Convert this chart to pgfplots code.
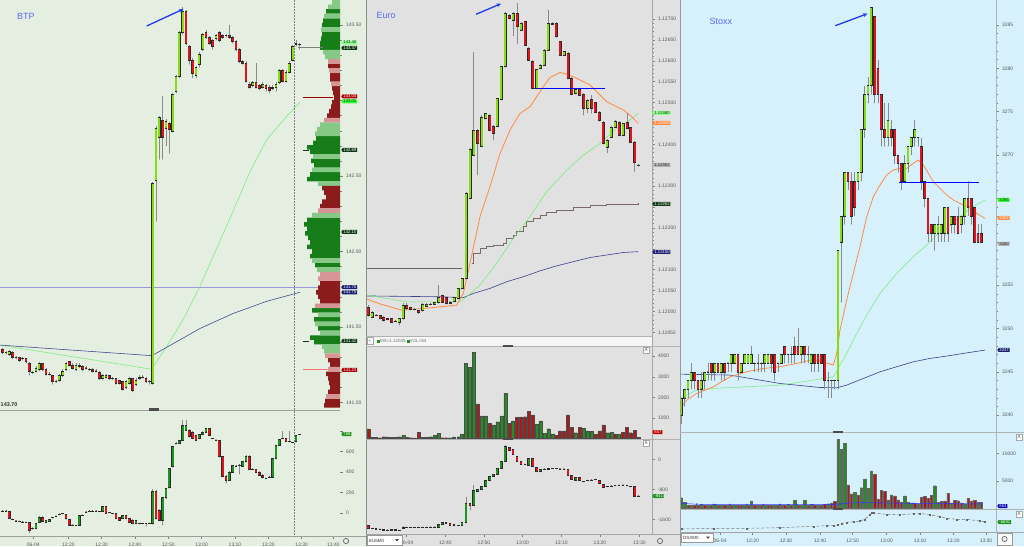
\documentclass[border=0pt]{standalone}
\usepackage{fontspec}
\setmainfont{Liberation Sans}
\usepackage{pgfplots}
\usepackage{pgfplotstable}
\pgfplotsset{compat=1.18}
\usetikzlibrary{shapes.symbols,arrows.meta}

\definecolor{bgbtp}{HTML}{E4EEE1}
\definecolor{bgeur}{HTML}{E1E1E1}
\definecolor{bgsto}{HTML}{D6F1FB}
\definecolor{lime}{HTML}{86DE12}
\definecolor{cred}{HTML}{E0141C}
\definecolor{dgreen}{HTML}{1F931F}
\definecolor{vgreen}{HTML}{238F23}
\definecolor{vred}{HTML}{B01717}
\definecolor{maorange}{HTML}{FF8A40}
\definecolor{manavy}{HTML}{3B3F8C}
\definecolor{magreen}{HTML}{78EE78}
\definecolor{vwap}{HTML}{7A6A6A}
\definecolor{arrowblue}{HTML}{1F3BF0}
\definecolor{lblue}{HTML}{5A6BF2}
\definecolor{pG}{HTML}{167D19}
\definecolor{pg}{HTML}{86C886}
\definecolor{pR}{HTML}{8C1C1C}
\definecolor{pr}{HTML}{D69696}
\definecolor{tagdark}{HTML}{0F3A14}
\definecolor{tagnavy}{HTML}{1B2070}
\definecolor{wick}{HTML}{8A8A8A}
\definecolor{outl}{HTML}{2A2A2A}

\pgfplotstableread{
x o h l c
0.8 141.35 141.36 141.32 141.33
1.8 141.33 141.34 141.32 141.33
2.8 141.32 141.35 141.31 141.34
3.8 141.33 141.34 141.29 141.30
4.8 141.30 141.31 141.29 141.30
5.8 141.30 141.30 141.27 141.28
6.8 141.29 141.30 141.28 141.29
7.8 141.29 141.29 141.26 141.27
8.8 141.26 141.27 141.18 141.21
9.8 141.20 141.21 141.19 141.20
10.8 141.21 141.24 141.20 141.23
11.8 141.22 141.27 141.21 141.26
12.8 141.26 141.26 141.21 141.22
13.8 141.22 141.23 141.18 141.19
14.8 141.19 141.20 141.18 141.19
15.8 141.18 141.18 141.12 141.14
16.8 141.14 141.15 141.13 141.14
17.8 141.15 141.19 141.14 141.18
18.8 141.18 141.22 141.17 141.21
19.8 141.22 141.27 141.21 141.26
20.8 141.27 141.27 141.24 141.25
21.8 141.25 141.26 141.22 141.23
22.8 141.22 141.26 141.21 141.25
23.8 141.24 141.26 141.23 141.25
24.8 141.24 141.25 141.21 141.22
25.8 141.23 141.24 141.22 141.23
26.8 141.22 141.23 141.21 141.22
27.8 141.22 141.23 141.20 141.21
28.8 141.21 141.22 141.20 141.21
29.8 141.20 141.21 141.15 141.16
30.8 141.16 141.19 141.15 141.18
31.8 141.17 141.19 141.16 141.18
32.8 141.18 141.18 141.15 141.16
33.8 141.16 141.17 141.15 141.16
34.8 141.16 141.16 141.12 141.13
35.8 141.15 141.15 141.12 141.13
36.8 141.14 141.14 141.08 141.09
37.8 141.10 141.15 141.09 141.14
38.8 141.13 141.17 141.12 141.16
39.8 141.16 141.16 141.07 141.08
40.8 141.12 141.16 141.11 141.15
41.8 141.16 141.18 141.15 141.17
42.8 141.17 141.18 141.16 141.17
43.8 141.16 141.17 141.13 141.14
44.8 141.14 141.15 141.12 141.14
45.8 141.13 142.46 141.12 142.45
46.8 142.47 142.83 142.20 142.82
47.8 142.76 142.90 142.61 142.89
48.8 142.87 143.03 142.61 142.76
49.8 142.82 142.88 142.70 142.86
50.8 142.85 142.86 142.65 142.81
51.8 142.80 143.05 142.79 143.04
52.8 143.06 143.17 143.05 143.16
53.8 143.16 143.46 143.15 143.45
54.8 143.45 143.62 143.44 143.59
55.8 143.59 143.60 143.37 143.38
56.8 143.36 143.37 143.24 143.27
57.8 143.27 143.28 143.15 143.18
58.8 143.17 143.23 143.15 143.22
59.8 143.24 143.32 143.22 143.31
60.8 143.34 143.45 143.33 143.44
61.8 143.45 143.47 143.41 143.42
62.8 143.42 143.43 143.37 143.38
63.8 143.40 143.41 143.34 143.36
64.8 143.41 143.44 143.40 143.43
65.8 143.45 143.46 143.39 143.40
66.8 143.43 143.44 143.41 143.42
67.8 143.43 143.44 143.42 143.43
68.8 143.43 143.50 143.41 143.42
69.8 143.42 143.43 143.38 143.39
70.8 143.39 143.40 143.33 143.34
71.8 143.34 143.35 143.25 143.26
72.8 143.26 143.27 143.24 143.25
73.8 143.25 143.26 143.12 143.13
74.8 143.11 143.12 143.08 143.09
75.8 143.10 143.13 143.09 143.12
76.8 143.12 143.25 143.08 143.09
77.8 143.10 143.11 143.07 143.08
78.8 143.09 143.12 143.08 143.11
79.8 143.10 143.11 143.06 143.08
80.8 143.09 143.10 143.05 143.07
81.8 143.09 143.10 143.07 143.08
82.8 143.09 143.12 143.06 143.11
83.8 143.12 143.21 143.11 143.20
84.8 143.20 143.21 143.12 143.13
85.8 143.13 143.20 143.12 143.19
86.8 143.19 143.26 143.18 143.25
87.8 143.27 143.37 143.26 143.36
88.8 143.38 143.40 143.36 143.37
89.8 143.37 143.38 143.34 143.37
}\btpmain

\pgfplotstableread{
p v k
143.65 8 2
143.62 12 2
143.59 14 1
143.56 16 2
143.53 17 1
143.50 18 1
143.47 19 2
143.44 18 1
143.41 19 1
143.38 20 1
143.35 20 1
143.32 17 2
143.29 15 2
143.26 12 4
143.23 12 3
143.20 11 4
143.17 10 3
143.14 10 3
143.11 9 4
143.08 8 3
143.05 7 3
143.02 6 3
142.99 8 3
142.96 9 3
142.93 11 3
142.90 13 3
142.87 16 4
142.84 20 2
142.81 23 2
142.78 25 2
142.75 24 1
142.72 27 1
142.69 33 1
142.66 30 1
142.63 27 2
142.60 29 1
142.57 26 1
142.54 28 2
142.51 30 1
142.48 33 1
142.45 22 2
142.42 18 3
142.39 16 3
142.36 14 3
142.33 18 3
142.30 20 3
142.27 22 4
142.24 28 2
142.21 33 1
142.18 36 1
142.15 33 1
142.12 35 1
142.09 32 1
142.06 30 1
142.03 33 1
142.00 28 1
141.97 30 1
141.94 28 2
141.91 25 1
141.88 23 2
141.85 20 4
141.82 22 4
141.79 20 3
141.76 22 3
141.73 24 3
141.70 22 3
141.67 20 3
141.64 25 4
141.61 28 1
141.58 22 2
141.55 26 1
141.52 25 2
141.49 22 1
141.46 20 2
141.43 30 1
141.40 26 1
141.37 18 2
141.34 16 2
141.31 15 4
141.28 12 3
141.25 10 3
141.22 12 4
141.19 14 3
141.16 12 3
141.13 11 3
141.10 10 3
141.07 12 3
141.04 14 4
141.01 15 3
140.98 16 3
}\btpprof

\pgfplotstableread{
x o h l c
0.8 20 25 15 20
1.8 20 25 15 20
2.8 15 18 -55 -50
3.8 -60 -55 -65 -60
4.8 -75 -70 -80 -75
5.8 -80 -75 -85 -80
6.8 -85 -80 -90 -85
7.8 -90 -85 -95 -90
8.8 -85 -85 -190 -165
9.8 -150 -140 -160 -150
10.8 -150 -95 -155 -101
11.8 -91 -30 -95 -36
12.8 -36 -30 -80 -75
13.8 -90 -65 -95 -70
14.8 -80 -55 -85 -60
15.8 -45 -40 -50 -45
16.8 -30 -25 -35 -30
17.8 -10 -5 -15 -10
18.8 -5 0 -10 -5
19.8 -10 -5 -60 -55
20.8 -60 -55 -120 -117
21.8 -117 -112 -122 -117
22.8 -120 -115 -125 -120
23.8 -117 -15 -120 -20
24.8 -20 -15 -25 -20
25.8 10 15 5 10
26.8 20 25 15 20
27.8 20 25 15 20
28.8 20 25 15 20
29.8 15 20 10 15
30.8 20 68 15 62
31.8 62 68 -5 0
32.8 5 10 0 5
33.8 -5 0 -10 -5
34.8 -5 0 -57 -52
35.8 -45 -40 -73 -68
36.8 -52 -15 -57 -20
37.8 -20 -15 -57 -52
38.8 -52 -47 -96 -91
39.8 -68 -63 -106 -101
40.8 -101 -65 -106 -70
41.8 -101 -96 -106 -101
42.8 -101 -96 -106 -101
43.8 -101 -96 -130 -101
44.8 -100 -95 -105 -100
45.8 -101 230 -110 215
46.8 215 220 -60 -52
47.8 30 35 -73 -68
48.8 -68 160 -117 150
49.8 150 245 140 241
50.8 248 440 240 436
51.8 452 650 445 647
52.8 680 690 670 680
53.8 680 716 675 712
54.8 712 907 705 852
55.8 810 907 805 852
56.8 810 815 740 745
57.8 793 798 723 728
58.8 761 765 705 712
59.8 728 771 723 767
60.8 767 797 762 793
61.8 793 830 788 826
62.8 826 830 756 761
63.8 728 733 723 728
64.8 712 717 707 712
65.8 712 717 545 550
66.8 550 555 359 364
67.8 364 369 290 322
68.8 322 407 317 403
69.8 403 472 398 468
70.8 459 470 450 459
71.8 468 475 380 468
72.8 459 505 454 501
73.8 501 563 496 559
74.8 559 563 424 429
75.8 429 434 424 429
76.8 429 434 392 397
77.8 403 408 366 371
78.8 371 376 340 345
79.8 338 343 333 338
80.8 354 359 349 354
81.8 354 537 349 533
82.8 533 667 528 663
83.8 663 726 658 722
84.8 728 800 723 728
85.8 728 733 697 702
86.8 702 800 691 696
87.8 689 694 684 689
88.8 696 765 691 761
89.8 767 772 762 767
}\btpdelta

\pgfplotstableread{
x o h l c
8.5 1.12011 1.12015 1.11988 1.11991
9.7 1.11987 1.12001 1.11985 1.11999
10.8 1.11991 1.11993 1.11989 1.11991
12.0 1.11991 1.11992 1.11981 1.11983
13.1 1.11987 1.11988 1.11976 1.11978
14.3 1.11981 1.11985 1.11979 1.11983
15.5 1.11983 1.11985 1.11973 1.11975
16.6 1.11977 1.11979 1.11975 1.11977
17.8 1.11973 1.11985 1.11967 1.11983
19.0 1.11983 1.12019 1.11981 1.12015
20.0 1.12015 1.12019 1.12005 1.12007
21.2 1.12009 1.12011 1.12003 1.12005
22.4 1.12005 1.12007 1.12003 1.12005
23.6 1.12003 1.12004 1.11994 1.11997
24.8 1.12002 1.12020 1.12000 1.12018
26.0 1.12013 1.12020 1.12011 1.12018
27.2 1.12018 1.12021 1.12016 1.12018
28.4 1.12018 1.12023 1.12016 1.12021
29.6 1.12021 1.12063 1.12019 1.12033
30.7 1.12038 1.12040 1.12021 1.12023
31.8 1.12033 1.12035 1.12017 1.12019
33.0 1.12019 1.12025 1.12018 1.12023
34.2 1.12025 1.12035 1.12023 1.12033
35.5 1.12031 1.12057 1.12029 1.12055
36.6 1.12055 1.12081 1.12053 1.12079
37.8 1.12079 1.12286 1.12077 1.12284
39.0 1.12271 1.12390 1.12269 1.12388
40.1 1.12374 1.12622 1.12374 1.12434
41.3 1.12434 1.12436 1.12327 1.12402
42.5 1.12396 1.12470 1.12394 1.12466
43.7 1.12462 1.12476 1.12460 1.12474
44.9 1.12470 1.12472 1.12432 1.12434
46.0 1.12444 1.12446 1.12410 1.12426
47.2 1.12444 1.12512 1.12442 1.12510
48.4 1.12508 1.12588 1.12506 1.12586
49.6 1.12586 1.12717 1.12584 1.12715
50.8 1.12710 1.12712 1.12700 1.12702
51.9 1.12698 1.12716 1.12660 1.12714
53.1 1.12714 1.12738 1.12640 1.12682
54.3 1.12674 1.12692 1.12672 1.12690
55.5 1.12694 1.12696 1.12636 1.12638
56.6 1.12630 1.12632 1.12600 1.12602
57.8 1.12600 1.12602 1.12532 1.12534
59.0 1.12534 1.12581 1.12532 1.12579
60.1 1.12582 1.12592 1.12580 1.12590
61.3 1.12590 1.12628 1.12588 1.12626
62.5 1.12626 1.12722 1.12624 1.12691
63.7 1.12691 1.12693 1.12686 1.12688
64.9 1.12690 1.12692 1.12656 1.12658
66.0 1.12646 1.12648 1.12612 1.12614
67.2 1.12614 1.12624 1.12612 1.12622
68.4 1.12618 1.12620 1.12556 1.12558
69.5 1.12558 1.12560 1.12518 1.12520
70.7 1.12522 1.12534 1.12520 1.12532
71.9 1.12532 1.12534 1.12516 1.12518
73.1 1.12520 1.12522 1.12470 1.12486
74.3 1.12486 1.12508 1.12476 1.12506
75.5 1.12508 1.12518 1.12474 1.12486
76.6 1.12500 1.12502 1.12476 1.12478
77.8 1.12478 1.12480 1.12455 1.12457
79.0 1.12454 1.12456 1.12400 1.12402
80.2 1.12394 1.12412 1.12380 1.12410
81.4 1.12418 1.12443 1.12416 1.12441
82.5 1.12442 1.12458 1.12440 1.12456
83.7 1.12454 1.12456 1.12420 1.12422
84.9 1.12422 1.12452 1.12420 1.12450
86.1 1.12452 1.12474 1.12436 1.12438
87.2 1.12440 1.12442 1.12404 1.12406
88.4 1.12406 1.12408 1.12335 1.12356
89.5 1.12350 1.12352 1.12348 1.12350
}\eurmain

\pgfplotstableread{
x v k
8.5 455 0
9.7 50 1
10.8 50 1
12.0 30 0
13.1 80 0
14.3 65 1
15.5 50 0
16.6 40 0
17.8 80 1
19.0 160 1
20.0 50 0
21.2 30 0
22.4 20 0
23.6 290 0
24.8 50 1
26.0 40 1
27.2 80 1
28.4 130 1
29.6 245 1
30.7 30 0
31.8 30 0
33.0 30 1
34.2 65 1
35.5 80 1
36.6 195 1
37.8 3660 1
39.0 3450 1
40.1 4200 1
41.3 1675 0
42.5 1090 1
43.7 1090 1
44.9 730 0
46.0 650 1
47.2 810 1
48.4 1090 1
49.6 2195 1
50.8 730 0
51.9 845 1
53.1 1010 0
54.3 1040 0
55.5 1055 0
56.6 1300 0
57.8 1140 0
59.0 680 1
60.1 845 1
61.3 245 1
62.5 470 1
63.7 210 1
64.9 160 0
66.0 360 0
67.2 360 0
68.4 1140 0
69.5 520 0
70.7 275 1
71.9 550 0
73.1 490 1
74.3 360 1
75.5 325 1
76.6 195 0
77.8 360 0
79.0 650 0
80.2 275 1
81.4 290 1
82.5 210 0
83.7 195 1
84.9 290 0
86.1 520 0
87.2 275 0
88.4 400 0
89.5 60 1
}\eurvol

\pgfplotstableread{
x o h l c
8.5 -1770 -1765 -1845 -1840
9.7 -1840 -1835 -1850 -1845
10.8 -1845 -1840 -1860 -1855
12.0 -1855 -1850 -1870 -1860
13.1 -1860 -1855 -1885 -1880
14.3 -1880 -1875 -1890 -1885
15.5 -1885 -1860 -1890 -1870
16.6 -1870 -1865 -1895 -1890
17.8 -1890 -1880 -1900 -1895
19.0 -1840 -1790 -1845 -1800
20.0 -1800 -1795 -1815 -1810
21.2 -1810 -1805 -1820 -1815
22.4 -1815 -1805 -1820 -1810
23.6 -1810 -1800 -1815 -1805
24.8 -1805 -1800 -1815 -1810
26.0 -1810 -1800 -1815 -1805
27.2 -1805 -1795 -1810 -1800
28.4 -1800 -1795 -1810 -1805
29.6 -1810 -1720 -1815 -1725
30.7 -1725 -1685 -1730 -1690
31.8 -1690 -1685 -1700 -1695
33.0 -1705 -1700 -1775 -1770
34.2 -1730 -1725 -1775 -1770
35.5 -1770 -1745 -1775 -1750
36.6 -1750 -1685 -1755 -1690
37.8 -1690 -1000 -1695 -1175
39.0 -1175 -1170 -1350 -1220
40.1 -1220 -690 -1225 -818
41.3 -845 -785 -850 -791
42.5 -791 -720 -800 -729
43.7 -729 -560 -735 -569
44.9 -569 -455 -575 -462
46.0 -462 -395 -470 -400
47.2 -400 -235 -405 -240
48.4 -240 -40 -245 -44
49.6 -44 370 -50 338
50.8 311 330 240 249
51.9 275 280 128 133
53.1 71 76 -50 -44
54.3 -44 -40 -138 -133
55.5 -133 -128 -138 -133
56.6 -151 32 -156 27
57.8 27 32 -200 -196
59.0 -222 -217 -334 -329
60.1 -329 -253 -334 -258
61.3 -258 -253 -263 -258
62.5 -258 -235 -263 -240
63.7 -245 -240 -250 -245
64.9 -250 -245 -255 -250
66.0 -255 -250 -260 -255
67.2 -260 -255 -265 -260
68.4 -267 -262 -422 -418
69.5 -418 -413 -528 -524
70.7 -551 -475 -556 -480
71.9 -480 -475 -573 -569
73.1 -596 -591 -601 -596
74.3 -569 -564 -574 -569
75.5 -551 -546 -556 -551
76.6 -533 -528 -538 -533
77.8 -551 -546 -645 -640
79.0 -658 -653 -752 -747
80.2 -729 -724 -734 -729
81.4 -711 -706 -716 -711
82.5 -702 -697 -707 -702
83.7 -693 -688 -698 -693
84.9 -684 -679 -689 -684
86.1 -702 -697 -707 -702
87.2 -729 -724 -734 -729
88.4 -729 -724 -983 -978
89.5 -978 -973 -983 -978
}\eurdelta

\pgfplotstableread{
x o h l c
0.4 3240 3242 3239 3242
1.4 3242 3243 3241 3243
2.4 3243 3244 3242 3244
3.4 3244 3246 3243 3245
4.4 3245 3245 3243 3244
5.4 3244 3244 3242 3243
6.4 3243 3245 3242 3244
7.4 3244 3245 3243 3245
8.4 3245 3246 3244 3245
9.4 3246 3246 3244 3245
10.4 3245 3246 3244 3246
11.4 3246 3246 3245 3245
12.4 3245 3246 3244 3246
13.4 3246 3246 3244 3245
14.4 3246 3246 3245 3246
15.4 3246 3247 3245 3247
16.4 3246 3247 3246 3247
17.4 3247 3247 3244 3245
18.4 3245 3246 3245 3246
19.4 3246 3247 3246 3247
20.4 3246 3247 3246 3247
21.4 3246 3248 3246 3247
22.4 3246 3246 3245 3246
23.4 3246 3247 3245 3246
24.4 3246 3246 3245 3246
25.4 3246 3247 3245 3247
26.4 3246 3247 3246 3247
27.4 3247 3247 3245 3246
28.4 3247 3247 3244 3245
29.4 3246 3246 3245 3246
30.4 3246 3247 3246 3247
31.4 3248 3248 3246 3247
32.4 3247 3247 3246 3247
33.4 3247 3248 3246 3247
34.4 3248 3249 3246 3247
35.4 3248 3250 3247 3247
36.4 3247 3248 3246 3248
37.4 3248 3248 3246 3247
38.4 3247 3248 3246 3247
39.4 3246 3247 3245 3247
40.4 3247 3247 3245 3246
41.4 3247 3247 3245 3246
42.4 3247 3247 3246 3246
43.4 3247 3247 3243 3244
44.4 3244 3245 3242 3244
45.4 3244 3244 3242 3244
46.4 3244 3244 3243 3244
47.4 3244 3259 3243 3259
48.4 3260 3263 3253 3263
49.4 3263 3268 3262 3268
50.4 3268 3268 3266 3267
51.4 3267 3268 3262 3263
52.4 3267 3268 3263 3264
53.4 3267 3268 3266 3268
54.4 3268 3273 3267 3273
55.4 3273 3278 3272 3277
56.4 3277 3279 3276 3278
57.4 3278 3287 3277 3287
58.4 3286 3286 3276 3277
59.4 3280 3281 3276 3277
60.4 3277 3277 3271 3273
61.4 3273 3276 3271 3272
62.4 3272 3276 3271 3274
63.4 3273 3274 3271 3272
64.4 3273 3273 3269 3270
65.4 3270 3270 3268 3269
66.4 3269 3269 3266 3267
67.4 3267 3270 3267 3269
68.4 3269 3271 3268 3271
69.4 3271 3272 3270 3272
70.4 3272 3274 3271 3273
71.4 3272 3272 3271 3272
72.4 3271 3272 3266 3267
73.4 3267 3267 3264 3265
74.4 3265 3265 3260 3261
75.4 3262 3262 3260 3261
76.4 3261 3262 3259 3262
77.4 3261 3263 3260 3262
78.4 3261 3262 3260 3262
79.4 3261 3264 3260 3264
80.4 3264 3264 3260 3261
81.4 3262 3263 3261 3263
82.4 3263 3263 3261 3262
83.4 3263 3264 3261 3261
84.4 3262 3263 3261 3263
85.4 3263 3265 3262 3265
86.4 3265 3267 3263 3264
87.4 3265 3265 3262 3263
88.4 3264 3264 3260 3260
89.4 3261 3262 3260 3260
90.4 3261 3262 3260 3260
}\stomain

\pgfplotstableread{
x v k
0.4 1950 1
1.4 1100 1
2.4 600 0
3.4 600 1
4.4 600 0
5.4 500 0
6.4 700 1
7.4 600 0
8.4 600 1
9.4 500 0
10.4 700 1
11.4 600 0
12.4 600 1
13.4 600 0
14.4 600 1
15.4 500 0
16.4 600 1
17.4 600 0
18.4 500 0
19.4 500 1
20.4 600 0
21.4 1340 1
22.4 600 0
23.4 500 1
24.4 600 0
25.4 600 1
26.4 600 0
27.4 500 0
28.4 500 1
29.4 600 0
30.4 600 1
31.4 500 0
32.4 700 1
33.4 600 0
34.4 1460 1
35.4 600 0
36.4 500 1
37.4 1460 1
38.4 600 0
39.4 700 1
40.4 600 0
41.4 600 1
42.4 600 0
43.4 700 0
44.4 850 1
45.4 976 0
46.4 1220 0
47.4 12627 1
48.4 10858 1
49.4 11895 1
50.4 4270 0
51.4 2623 0
52.4 2867 1
53.4 2440 0
54.4 3782 1
55.4 5368 1
56.4 3660 1
57.4 6832 1
58.4 6222 0
59.4 1708 0
60.4 3233 0
61.4 3050 0
62.4 1525 1
63.4 2440 0
64.4 2257 0
65.4 1525 0
66.4 1098 0
67.4 2257 1
68.4 1098 1
69.4 976 1
70.4 915 0
71.4 850 1
72.4 1952 0
73.4 2135 0
74.4 1830 0
75.4 2318 0
76.4 4148 1
77.4 1098 1
78.4 1220 0
79.4 1340 0
80.4 2745 0
81.4 976 1
82.4 1464 0
83.4 1400 0
84.4 976 0
85.4 850 1
86.4 1769 0
87.4 1340 0
88.4 1464 0
89.4 1098 1
90.4 1098 0
}\stovol

\pgfplotsset{
 nomark/.style={only marks, mark=*, mark size=0.1pt, mark options={draw=none, fill=none}},
}
\newcommand{\candles}[7]{%
 \addplot[wick, nomark, forget plot, error bars/.cd, y dir=plus, y explicit, error mark=none, error bar style={line width=0.5pt, draw=wick}] table[x=x, y=l, y error plus expr=\thisrow{h}-\thisrow{l}] {#1};
 \addplot[#7, nomark, forget plot, restrict expr to domain={\thisrow{c}-\thisrow{o}}{0:1e9}, error bars/.cd, y dir=plus, y explicit, error mark=none, error bar style={line width=#5, draw=#7}] table[x=x, y=o, y error plus expr=\thisrow{c}-\thisrow{o}] {#1};
 \addplot[#7, nomark, forget plot, restrict expr to domain={\thisrow{o}-\thisrow{c}}{0:1e9}, error bars/.cd, y dir=plus, y explicit, error mark=none, error bar style={line width=#5, draw=#7}] table[x=x, y=c, y error plus expr=\thisrow{o}-\thisrow{c}] {#1};
 \addplot[#2, nomark, forget plot, restrict expr to domain={\thisrow{c}-\thisrow{o}}{0:1e9}, error bars/.cd, y dir=plus, y explicit, error mark=none, error bar style={line width=#4, draw=#2}] table[x=x, y=o, y error plus expr=\thisrow{c}-\thisrow{o}] {#1};
 \addplot[#3, nomark, forget plot, restrict expr to domain={\thisrow{o}-\thisrow{c}}{0:1e9}, error bars/.cd, y dir=plus, y explicit, error mark=none, error bar style={line width=#4, draw=#3}] table[x=x, y=c, y error plus expr=\thisrow{o}-\thisrow{c}] {#1};
 \addplot[#7, only marks, mark=-, mark size=#6, mark options={line width=0.4pt}, forget plot] table[x=x, y=o] {#1};
 \addplot[#7, only marks, mark=-, mark size=#6, mark options={line width=0.4pt}, forget plot] table[x=x, y=c] {#1};
}
\newcommand{\volbars}[5]{%
 \addplot[ybar, bar width=#4, fill=#2, draw=#5, line width=0.3pt, forget plot, restrict expr to domain={\thisrow{k}}{1:1}] table[x=x, y=v] {#1};
 \addplot[ybar, bar width=#4, fill=#3, draw=#5, line width=0.3pt, forget plot, restrict expr to domain={\thisrow{k}}{0:0}] table[x=x, y=v] {#1};
}

\pgfplotsset{
 panel/.style={scale only axis, anchor=south west, axis line style={draw=none}, xtick=\empty, ytick=\empty, clip=true,
  tick label style={font=\fontsize{5}{6}\selectfont, text=black!65},
  /pgf/number format/assume math mode=true, /pgf/number format/1000 sep={},
  scaled y ticks=false, scaled x ticks=false,
  tick style={black!50, line width=0.4pt}, tick align=outside, major tick length=2.5pt, minor tick length=1.5pt,
  ytick pos=right, yticklabel pos=right, xtick pos=left,
  xticklabel style={yshift=-0.5pt}},
}
\tikzset{tag/.style={signal, signal to=west, signal pointer angle=110, inner xsep=0.8pt, inner ysep=0.35pt, font=\fontsize{4.2}{4.4}\selectfont, anchor=west, text height=2.9pt, text depth=0.4pt}}

\begin{document}
\begin{tikzpicture}
\useasboundingbox (0pt,0pt) rectangle (1024pt,546pt);
\begin{scope}[x=1pt,y=1pt]
\fill[bgbtp] (0,0) rectangle (366,546);
\fill[bgeur] (366,0) rectangle (680,546);
\fill[bgsto] (680,0) rectangle (1024,546);
\fill[white!93!gray] (366,200) rectangle (652,210);
\end{scope}

% ---------------- BTP main
\begin{axis}[panel, at={(0pt,136pt)}, width=340pt, height=410pt, xmin=0, xmax=102, ymin=140.95, ymax=143.666,
  ytick={141,141.5,142,142.5,143,143.5}, yticklabels={141.00,141.50,142.00,142.50,,143.50}, minor y tick num=4]
\addplot[black!35!blue!40, line width=0.5pt, forget plot] coordinates {(0,141.76) (102,141.76)};
\addplot[magreen, line width=0.55pt] coordinates {(0,141.38) (45.5,141.22) (50,141.37) (55,141.55) (59.8,141.76) (65,142.02) (70,142.27) (75,142.53) (80,142.74) (85,142.87) (90,142.99)};
\addplot[manavy, line width=0.55pt] coordinates {(0,141.38) (45.5,141.31) (48,141.34) (52,141.39) (60,141.49) (70,141.59) (80,141.67) (90,141.73)};
\candles{\btpmain}{lime}{cred}{1.7pt}{2.5pt}{1.25pt}{outl}
\end{axis}

% ---------------- BTP volume profile
\begin{axis}[panel, hide axis, at={(300pt,136pt)}, width=40pt, height=410pt, x dir=reverse, xmin=0, xmax=40, ymin=140.95, ymax=143.666]
\addplot[xbar, bar width=0.03, fill=pG, draw=none, forget plot, restrict expr to domain={\thisrow{k}}{1:1}] table[x=v, y=p] {\btpprof};
\addplot[xbar, bar width=0.03, fill=pg, draw=none, forget plot, restrict expr to domain={\thisrow{k}}{2:2}] table[x=v, y=p] {\btpprof};
\addplot[xbar, bar width=0.03, fill=pR, draw=none, forget plot, restrict expr to domain={\thisrow{k}}{3:3}] table[x=v, y=p] {\btpprof};
\addplot[xbar, bar width=0.03, fill=pr, draw=none, forget plot, restrict expr to domain={\thisrow{k}}{4:4}] table[x=v, y=p] {\btpprof};
\end{axis}

% ---------------- BTP lower panel
\begin{axis}[panel, at={(0pt,10pt)}, width=340pt, height=125pt, xmin=0, xmax=102, ymin=-224, ymax=995,
  ytick={0,200,400,600,800}, yticklabels={0,200,400,600,},
  xtick={10,20.5,30.5,40.5,50.5,60.5,70.5,80.5,90.5,100},
  xticklabels={06-04,12:20,12:30,12:40,12:50,13:00,13:10,13:20,13:30,13:40}]
\candles{\btpdelta}{dgreen}{cred}{1.8pt}{2.5pt}{1.25pt}{outl}
\end{axis}

% ---------------- Euro main
\begin{axis}[panel, at={(366pt,210pt)}, width=286pt, height=336pt, xmin=7.8, xmax=93.6, ymin=1.119411, ymax=1.127455,
  ytick={1.1195,1.12,1.1205,1.121,1.1215,1.122,1.1225,1.123,1.1235,1.124,1.1245,1.125,1.1255,1.126,1.1265,1.127},
  yticklabels={1.11950,1.12000,1.12050,1.12100,,1.12200,,1.12300,,1.12400,,1.12500,1.12550,1.12600,1.12650,1.12700},
  minor y tick num=4]
\addplot[black!60, line width=0.6pt, forget plot] coordinates {(7.8,1.12103) (36.5,1.12103)};
\addplot[vwap, line width=0.6pt, const plot] coordinates {(39.5,1.12115) (40,1.12139) (42,1.12151) (44,1.12155) (46,1.12159) (49,1.12164) (50,1.12175) (52,1.12183) (53,1.12191) (55,1.12203) (56,1.12215) (58,1.12223) (60,1.12231) (62,1.12237) (65,1.12243) (70,1.12249) (75,1.12253) (80,1.12256) (89.5,1.12259)};
\addplot[manavy, line width=0.6pt] coordinates {(7.8,1.12037) (30,1.12035) (37,1.12033) (40,1.12043) (45,1.12055) (50,1.12071) (55,1.12083) (60,1.12097) (65,1.12109) (70,1.12119) (75,1.12129) (80,1.12135) (85,1.12141) (89.5,1.12143)};
\addplot[magreen, line width=0.55pt] coordinates {(7.8,1.12039) (20,1.12023) (36,1.12023) (38,1.12035) (42,1.12063) (47,1.12115) (52,1.12175) (57,1.12227) (62,1.12287) (68,1.12338) (73,1.12374) (78,1.12402) (83,1.12438) (87,1.12458) (89.5,1.12474)};
\addplot[maorange, line width=0.8pt] coordinates {(7.8,1.12030) (12,1.12018) (18.5,1.12003) (25,1.12007) (35,1.12015) (37,1.12043) (39,1.12115) (42,1.12227) (45,1.12299) (48,1.12378) (51,1.12434) (54,1.12474) (57,1.12490) (59,1.12514) (61,1.12538) (63,1.12560) (66,1.12572) (68,1.12568) (70,1.12562) (72,1.12554) (75,1.12542) (78,1.12518) (80,1.12502) (82,1.12494) (85,1.12482) (87,1.12470) (89.5,1.12450)};
\candles{\eurmain}{lime}{cred}{2.2pt}{3.0pt}{1.5pt}{outl}
\addplot[blue, line width=1.5pt] coordinates {(57.8,1.12534) (79.5,1.12534)};
\end{axis}

% ---------------- Euro volume
\begin{axis}[panel, at={(366pt,107pt)}, width=286pt, height=93pt, xmin=7.8, xmax=93.6, ymin=-34, ymax=4500,
  ytick={1000,2000,3000,4000}]
\volbars{\eurvol}{vgreen}{vred}{2.9pt}{black!70}
\end{axis}

% ---------------- Euro delta
\begin{axis}[panel, at={(366pt,12pt)}, width=286pt, height=95pt, xmin=7.8, xmax=93.6, ymin=-1992, ymax=541,
  ytick={-1600,-800,0},
  xtick={20,31.6,43.2,54.8,66.4,78,89.8},
  xticklabels={06-04,12:40,12:50,13:00,13:10,13:20,13:30}]
\candles{\eurdelta}{dgreen}{cred}{2.2pt}{2.9pt}{1.45pt}{outl}
\end{axis}

% ---------------- Stoxx main
\begin{axis}[panel, at={(680pt,115pt)}, width=316pt, height=431pt, xmin=0, xmax=94.8, ymin=3238.17, ymax=3287.88,
  ytick={3240,3245,3250,3255,3260,3265,3270,3275,3280,3285},
  yticklabels={3240,3245,3250,3255,,,3270,3275,3280,3285}, minor y tick num=4]
\addplot[manavy, line width=0.6pt] coordinates {(0,3244.73) (15,3244.62) (30,3243.65) (42,3243.19) (47,3243.15) (50,3243.46) (55,3244.23) (60,3245.0) (65,3245.58) (70,3246.15) (75,3246.54) (80,3246.81) (85,3247.12) (91.5,3247.5)};
\addplot[magreen, line width=0.55pt] coordinates {(0,3241.92) (5,3242.88) (10,3243.08) (20,3243.27) (30,3243.46) (40,3244.04) (46,3244.42) (48,3245.77) (50,3247.12) (53,3249.42) (56,3251.54) (60,3254.04) (65,3256.35) (70,3258.27) (74,3259.62) (77,3260.77) (80,3261.54) (84,3262.88) (87,3263.85) (91.5,3264.81)};
\addplot[maorange, line width=0.8pt] coordinates {(0,3240.77) (2,3241.73) (5,3242.5) (10,3243.27) (15,3244.42) (20,3245.0) (25,3245.38) (30,3245.58) (35,3245.96) (40,3246.42) (43,3246.15) (46,3245.77) (47,3247.12) (48,3249.81) (50,3253.27) (52,3256.35) (54,3259.42) (56,3262.88) (58,3265.19) (60,3266.54) (62,3267.69) (64,3268.27) (66,3268.46) (68,3268.46) (70,3269.04) (71.5,3269.42) (73,3268.85) (76,3266.92) (78,3266.15) (80,3265.38) (82,3264.81) (85,3264.23) (87,3264.04) (89,3263.27) (91.5,3262.69)};
\candles{\stomain}{lime}{cred}{1.8pt}{2.5pt}{1.25pt}{outl}
\addplot[blue, line width=1.5pt] coordinates {(65.7,3266.85) (89.8,3266.85)};
\end{axis}

% ---------------- Stoxx volume
\begin{axis}[panel, at={(680pt,37pt)}, width=316pt, height=77pt, xmin=0, xmax=94.8, ymin=-128, ymax=13974,
  ytick={5000,10000}]
\volbars{\stovol}{vgreen}{vred}{2.5pt}{black!60}
\addplot[blue!80, line width=0.5pt, mark=*, mark size=0.5pt] coordinates {(0.4,900) (5,750) (10,700) (15,720) (20,700) (25,690) (30,680) (35,690) (40,680) (46,720) (48,800) (50,950) (55,1050) (60,1000) (65,950) (70,900) (75,880) (80,850) (85,820) (90.4,800)};
\end{axis}

% ---------------- Stoxx delta
\begin{axis}[panel, at={(680pt,14pt)}, width=316pt, height=23pt, xmin=0, xmax=94.8, ymin=-9800, ymax=-2900,
  xtick={12,21.8,31.8,42,51.8,62,72,82,91.8},
  xticklabels={06-04,12:20,12:30,12:40,12:50,13:00,13:10,13:20,13:30}]
\addplot[black!55, line width=0.5pt, densely dashed, mark=square*, mark size=0.55pt, mark options={solid, black!60}] coordinates {(0.4,-8900) (10,-8700) (20,-8700) (30,-8500) (40,-8100) (44,-7900) (46,-7900) (47.4,-7700) (48.4,-7300) (50,-6900) (52,-6700) (54,-6500) (55.4,-6000) (57,-4700) (57.4,-4000) (58,-4100) (62,-4500) (66,-4700) (70,-4300) (72,-4200) (75,-4700) (78,-5200) (80,-5700) (83,-6000) (86,-6000) (90,-6500) (91.4,-6700)};
\end{axis}

% ---------------- overlays
\begin{scope}[x=1pt,y=1pt]
\draw[gray!75, line width=0.5pt] (0,136) -- (340,136);
\draw[gray!75, line width=0.5pt] (0,10) -- (366,10);
\draw[black!45, line width=0.6pt] (366,0) -- (366,546);
\draw[gray!70, line width=0.5pt] (652,12) -- (652,546);
\draw[gray!60] (366,210) -- (652,210);
\draw[gray!60] (366,200) -- (680,200);
\draw[gray!60] (366,107) -- (680,107);
\draw[gray!70] (366,12) -- (680,12);
\draw[black!40, line width=0.6pt] (680,0) -- (680,546);
\draw[gray!60] (996,14) -- (996,546);
\draw[gray!60] (680,114) -- (1024,114);
\draw[gray!60] (680,37) -- (1024,37);
\draw[gray!70] (680,14) -- (1024,14);
\draw[gray, densely dotted, line width=0.5pt] (294.7,10) -- (294.7,546);
\draw[gray, line width=0.6pt] (298,498.3) -- (323,498.3);
\draw[red!60!black, line width=0.5pt] (303,448.7) -- (333,448.7);
\draw[tagdark, line width=0.5pt] (303,396) -- (309,396);
\draw[tagdark, line width=0.5pt] (303,205) -- (309,205);
\draw[red!55, line width=0.5pt] (303,177) -- (328,177);
\fill[black!70] (149,135) rectangle (159,137.5);
\fill[black!70] (503,198.8) rectangle (513,201.2);
\fill[black!70] (503,105.8) rectangle (513,108.2);
\fill[black!70] (833,112.8) rectangle (843,115.2);
\fill[black!70] (833,35.8) rectangle (843,38.2);
\node[lblue, anchor=west, font=\fontsize{9}{10}\selectfont, inner sep=0pt] at (17,529.3) {BTP};
\node[lblue, anchor=west, font=\fontsize{9}{10}\selectfont, inner sep=0pt] at (376.5,531) {Euro};
\node[lblue, anchor=west, font=\fontsize{9}{10}\selectfont, inner sep=0pt] at (709.5,524.3) {Stoxx};
\draw[arrowblue, line width=1.3pt, -{Stealth[length=4.5pt,width=4pt]}] (146.7,520) -- (183.5,537);
\draw[arrowblue, line width=1.3pt, -{Stealth[length=4.5pt,width=4pt]}] (476,531.7) -- (501,542.3);
\draw[arrowblue, line width=1.3pt, -{Stealth[length=4.5pt,width=4pt]}] (835.3,520.3) -- (867.5,532.3);
\node[anchor=west, font=\bfseries\fontsize{5.5}{6}\selectfont, text=black!80, inner sep=0pt] at (0.5,141) {143.70};
\draw[gray!70, fill=white] (367,201.5) rectangle (373,208.5);
\node[font=\fontsize{4.5}{5}\selectfont, text=black!60, inner sep=0pt] at (370,205) {×};
\node[anchor=west, font=\fontsize{4.5}{5}\selectfont, text=black!55, inner sep=0pt] at (377,205) {\textcolor{vgreen}{\rule{2.8pt}{2.8pt}}MA=1.12045 \textcolor{vgreen}{\rule{2.8pt}{2.8pt}}VOL=64};
\node[tag, fill=green!45, text=tagdark] at (341,503.3) {143.40};
\node[tag, fill=tagdark, text=white] at (341,498) {143.37};
\node[tag, fill=red!70!black, text=white] at (341,449.6) {143.04};
\node[tag, fill=green!80, text=tagdark] at (341,444.6) {143.01};
\node[tag, fill=tagdark, text=white] at (341,396) {142.69};
\node[tag, fill=tagdark, text=white] at (341,314) {142.15};
\node[tag, fill=tagnavy, text=white] at (341,258.8) {141.78};
\node[tag, fill=tagnavy, text=white] at (341,253.6) {141.75};
\node[tag, fill=tagdark, text=white] at (341,205) {141.42};
\node[tag, fill=red!65!black, text=white] at (341,176) {141.23};
\node[tag, fill=dgreen, text=white] at (341,112) {788};
\node[tag, fill=green!45, text=tagdark] at (652,433) {1.12480};
\node[tag, fill=maorange, text=white] at (652,423) {1.12455};
\node[tag, fill=black!30, text=black!80] at (652,381) {1.12352};
\node[tag, fill=tagdark, text=white] at (652,342) {1.12262};
\node[tag, fill=tagnavy, text=white] at (652,294) {1.12150};
\node[tag, fill=red!75!black, text=white] at (652,114) {857};
\node[tag, fill=dgreen, text=white] at (652,50) {-941};
\node[tag, fill=green!80, text=tagdark] at (997,346) {3265};
\node[tag, fill=maorange, text=white] at (997,328) {3262};
\node[tag, fill=black!30, text=black!80] at (997,302) {3260};
\node[tag, fill=tagnavy, text=white] at (997,196) {3247};
\node[tag, fill=blue!70!black, text=white] at (997,40) {863};
\node[tag, fill=dgreen, text=white] at (997,24) {-6691};
\foreach \ax/\ay in {646/196, 646/103, 1019/109, 1019/32}{
  \draw[gray!70, fill=white] (\ax-3,\ay-3) rectangle (\ax+3,\ay+3);
  \node[font=\fontsize{4.5}{5}\selectfont, text=black!70, inner sep=0pt] at (\ax,\ay) {A};
}
\draw[gray!80, fill=white] (367,0.5) rectangle (402,10.5);
\node[anchor=west, font=\fontsize{4.5}{5}\selectfont, text=black!80, inner sep=0pt] at (369,5.5) {EU6M0};
\fill[black!70] (395,7) -- (399,7) -- (397,4.5) -- cycle;
\draw[gray!80, fill=white] (681,3.5) rectangle (713,12.5);
\node[anchor=west, font=\fontsize{4.5}{5}\selectfont, text=black!80, inner sep=0pt] at (683,8) {DSXM0};
\fill[black!70] (706,9.5) -- (710,9.5) -- (708,7) -- cycle;
\draw[gray!80, fill=white!95!gray] (997,1) rectangle (1012,13);
\foreach \cx/\cy in {346/5, 660/5, 1004.5/7}{
  \draw[black!60, line width=0.7pt] (\cx,\cy) circle (2.6pt);
}
\end{scope}
\end{tikzpicture}
\end{document}
